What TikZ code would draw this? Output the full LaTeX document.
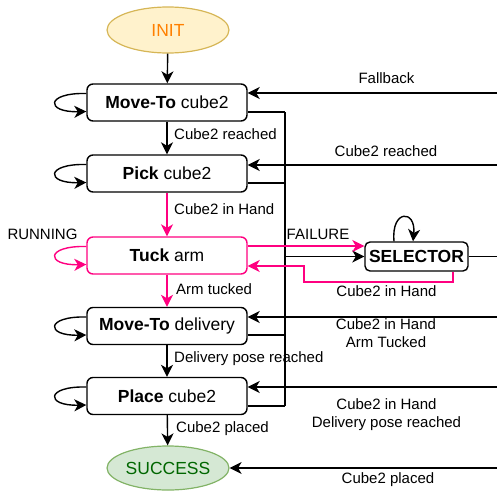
\documentclass[tikz,border=0pt]{standalone}
\usepackage{fontspec}
\setmainfont{Liberation Sans}
\usetikzlibrary{shapes.geometric,arrows.meta,calc}
\definecolor{pinkc}{HTML}{FF0080}
\definecolor{initfill}{HTML}{FFF2CC}
\definecolor{initdraw}{HTML}{D6B656}
\definecolor{inittext}{HTML}{FF8000}
\definecolor{succfill}{HTML}{D5E8D4}
\definecolor{succdraw}{HTML}{82B366}
\definecolor{succtext}{HTML}{006600}
\tikzset{
  st/.style={draw, rounded corners=6pt, minimum width=160pt, minimum height=37pt, inner sep=0pt, line width=1.4pt, font=\fontsize{17.5}{20}\selectfont},
  term/.style={ellipse, draw, line width=1.2pt, minimum width=122pt, minimum height=46pt, inner sep=0pt, font=\fontsize{17.5}{20}\selectfont},
  lab/.style={font=\fontsize{15}{18}\selectfont, inner sep=0pt, align=center},
  ar/.style={line width=1.4pt, -{Stealth[length=12pt,width=12pt,inset=3.5pt]}},
  ln/.style={line width=1.4pt},
}
\begin{document}
\begin{tikzpicture}[x=1pt,y=-1pt]
\useasboundingbox (0,0) rectangle (497,492);
% states
\node[term, fill=initfill, draw=initdraw, text=inittext] (init) at (168,30) {INIT};
\node[st] (b1) at (167,102.5) {\textbf{Move-To} cube2};
\node[st] (b2) at (167,173.5) {\textbf{Pick} cube2};
\node[st, draw=pinkc] (b3) at (167,255.5) {\textbf{Tuck} arm};
\node[st] (b4) at (167,326) {\textbf{Move-To} delivery};
\node[st] (b5) at (167,396) {\textbf{Place} cube2};
\node[term, fill=succfill, draw=succdraw, text=succtext, minimum height=44pt] (succ) at (168,468) {SUCCESS};
\node[draw, rounded corners=5pt, line width=1.4pt, minimum width=103pt, minimum height=29pt, inner sep=0pt, font=\fontsize{17.5}{20}\selectfont\bfseries] (sel) at (416.5,256.5) {SELECTOR};

% vertical flow
\draw[ar] (init) -- (b1);
\draw[ar] (b1) -- (b2);
\draw[ar, pinkc] (b2) -- (b3);
\draw[ar, pinkc] (b3) -- (b4);
\draw[ar] (b4) -- (b5);
\draw[ar] (b5) -- (succ);
\node[lab, anchor=base west] (v1) at (174,139) {Cube2 reached};
\node[lab, anchor=base west] (v2) at (174,214) {Cube2 in Hand};
\node[lab, anchor=base west] (v3) at (176,294) {Arm tucked};
\node[lab, anchor=base west] (v4) at (174,362) {Delivery pose reached};
\node[lab, anchor=base west] (v5) at (176,432.5) {Cube2 placed};

% self loops
\foreach \n in {b1,b2,b4,b5}{
  \draw[ar] ($(\n.west)+(0,-9)$) .. controls +(-41,-1) and +(-41,1) .. ($(\n.west)+(0,9)$);
}
\draw[ar, pinkc] ($(b3.west)+(0,-9)$) .. controls +(-41,-1) and +(-41,1) .. ($(b3.west)+(0,9)$);
\node[lab, anchor=base] (run) at (42.5,239) {RUNNING};
\draw[ar] ($(sel.north)+(-22.5,0)$) .. controls +(-3,-32) and +(3,-32) .. ($(sel.north)+(-3.5,0)$);

% bus to selector
\coordinate (o1) at (285,112);
\coordinate (o2) at (285,183);
\coordinate (o4) at (285,335);
\coordinate (o5) at (285,406);
\coordinate (ob) at (285,256.5);
\draw[ln] (b1.east |- o1) -- (o1);
\draw[ln] (b2.east |- o2) -- (o2);
\draw[ln] (b4.east |- o4) -- (o4);
\draw[ln] (b5.east |- o5) -- (o5);
\draw[ln] (o1) -- (o5);
\draw[ar] (ob) -- (sel.west);
\coordinate (so) at (497,256.5);
\draw[ln] (sel.east) -- (so);

% failure / return (pink)
\coordinate (f) at (0,246);
\draw[ar, pinkc] (b3.east |- f) -- (sel.west |- f);
\node[lab, anchor=base] (fl) at (318,239) {FAILURE};
\coordinate (r1) at (453,282);
\coordinate (r2) at (304,282);
\coordinate (r3) at (304,266);
\draw[ar, pinkc] (sel.south -| r1) -- (r1) -- (r2) -- (r3) -- (b3.east |- r3);
\node[lab, anchor=base] (rl) at (386.5,296.5) {Cube2 in Hand};

% inputs from the right
\coordinate (i1) at (497,93);
\coordinate (i2) at (497,165);
\coordinate (i4) at (497,317);
\coordinate (i5) at (497,387);
\coordinate (i6) at (497,468);
\draw[ar] (i1) -- (b1.east |- i1);
\draw[ar] (i2) -- (b2.east |- i2);
\draw[ar] (i4) -- (b4.east |- i4);
\draw[ar] (i5) -- (b5.east |- i5);
\draw[ar] (i6) -- (succ.east |- i6);
\node[lab, anchor=base] (l1) at (386.5,84) {Fallback};
\node[lab, anchor=base] (l2) at (386,156) {Cube2 reached};
\node[lab, anchor=north] (l4) at (386,318.5) {Cube2 in Hand\\Arm Tucked};
\node[lab, anchor=north] (l5) at (386.5,398.5) {Cube2 in Hand\\Delivery pose reached};
\node[lab, anchor=base] (l6) at (388,483.5) {Cube2 placed};
\end{tikzpicture}
\end{document}
